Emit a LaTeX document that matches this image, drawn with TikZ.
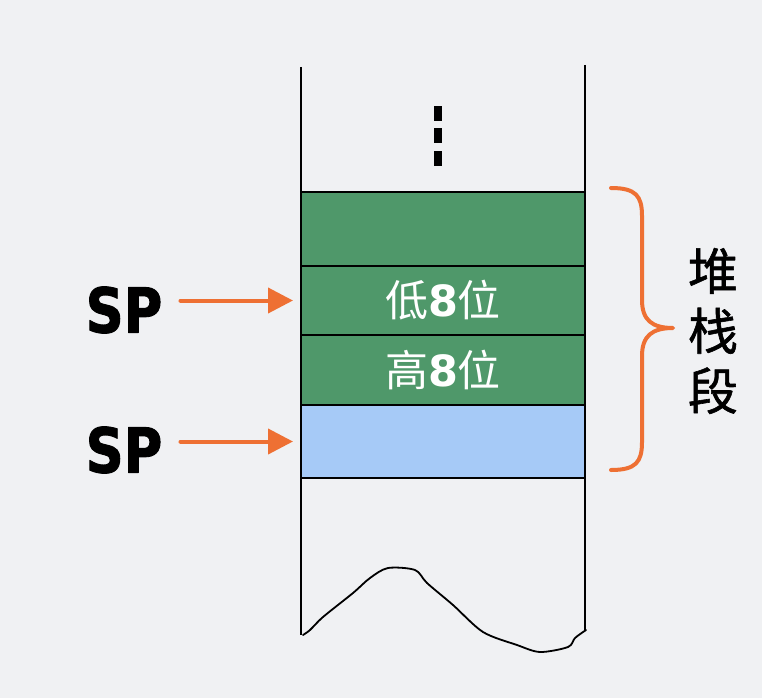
\documentclass[tikz,border=0pt]{standalone}
\usepackage{fontspec}
\setmainfont{DejaVu Sans}
\newfontfamily\cjk{Noto Sans CJK SC}
\newfontfamily\cjkheavy[FakeBold=1.2]{Noto Sans CJK SC}
\newfontfamily\spfont[FakeStretch=0.85,FakeBold=1.5]{DejaVu Sans}
\usetikzlibrary{arrows.meta}
\definecolor{StackGreen}{HTML}{4F986A}
\definecolor{StackBlue}{HTML}{A6CAF7}
\definecolor{StackOrange}{HTML}{EE7033}
\definecolor{SlideBack}{HTML}{F0F1F3}

\begin{document}
\begin{tikzpicture}[x=1pt,y=-1pt,line cap=round,line join=round,
  cell/.style={draw,line width=2.6pt,minimum width=284pt,inner sep=0pt,outer sep=0pt,text=white,
    font=\fontsize{43}{43}\selectfont},
  wall/.style={line width=2.6pt,line cap=butt},
  sparrow/.style={StackOrange,line width=4pt,-{Triangle[length=25pt,width=25pt]}}]
  \fill[SlideBack] (0,0) rectangle (762,698);
  \useasboundingbox (0,0) rectangle (762,698);
  % stack cells
  \node[cell,fill=StackGreen,minimum height=74pt] (spare) at (443,229) {};
  \node[cell,fill=StackGreen,minimum height=69pt] (lowbyte) at (443,300.5) {{\cjk 低}\textbf{8}{\cjk 位}};
  \node[cell,fill=StackGreen,minimum height=70pt] (highbyte) at (443,370) {{\cjk 高}\textbf{8}{\cjk 位}};
  \node[cell,fill=StackBlue,minimum height=73pt] (freecell) at (443,441.5) {};
  % walls and torn bottom
  \draw[wall] (301,67) -- (spare.north west); \draw[wall] (585,65) -- (spare.north east);
  \draw[wall] (freecell.south west) -- (301,635); \draw[wall] (freecell.south east) -- (585,630);
  \draw[line width=1.8pt] plot[smooth] coordinates {(303,635) (310,630) (323,617) (353,593) (370,578) (388,568)
    (415,570) (427,583) (453,605) (483,632) (517,645) (540,652) (568,647) (575,638) (586,630)};
  \foreach \y in {106,128,151} \fill (434,\y) rectangle ++(8,15);
  % stack pointer
  \node[font=\spfont\bfseries\fontsize{62}{62}\selectfont,inner sep=0pt] (sp1) at (124,310) {SP};
  \node[font=\spfont\bfseries\fontsize{62}{62}\selectfont,inner sep=0pt] (sp2) at (124,450) {SP};
  \draw[sparrow,shorten <=18pt,shorten >=8pt] (sp1.east |- lowbyte.west) -- (lowbyte.west);
  \draw[sparrow,shorten <=18pt,shorten >=8pt] (sp2.east |- freecell.west) -- (freecell.west);
  % segment brace
  \draw[StackOrange,line width=4pt] (611,188) .. controls (636,188) and (642,196) .. (642,216) -- (642,300)
    .. controls (642,320) and (652,328) .. (673,328) .. controls (652,328) and (642,336) .. (642,356) -- (642,442)
    .. controls (642,462) and (636,470) .. (611,470);
  \node[font=\cjkheavy\fontsize{50}{60}\selectfont,align=center] (seg) at (713,331) {堆\\栈\\段};
\end{tikzpicture}
\end{document}
